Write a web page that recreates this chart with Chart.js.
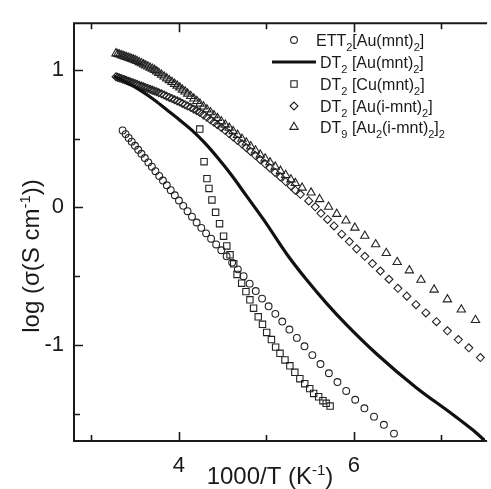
<!DOCTYPE html>
<html><head><meta charset="utf-8">
<script src="https://cdn.jsdelivr.net/npm/chart.js@4/dist/chart.umd.min.js"></script>
<style>html,body{margin:0;padding:0;background:#fff}</style>
</head><body>
<canvas id="c" width="491" height="489" style="display:block;width:491px;height:489px"></canvas>
<script>
// ---- tick definitions ----
const xTickValues = [3, 4, 5, 6, 7];
const xTickLabels = [4, 6];
const yTickValues = [1, 0.5, 0, -0.5, -1, -1.5];
const yTickLabels = [1, 0, -1];

// ---- series names (text, 0 = normal, 1 = subscript) ----
const seriesNames = [
  [['ETT',0],['2',1],['[Au(mnt)',0],['2',1],[']',0]],
  [['DT',0],['2',1],[' [Au(mnt)',0],['2',1],[']',0]],
  [['DT',0],['2',1],[' [Cu(mnt)',0],['2',1],[']',0]],
  [['DT',0],['2',1],[' [Au(i-mnt)',0],['2',1],[']',0]],
  [['DT',0],['9',1],[' [Au',0],['2',1],['(i-mnt)',0],['2',1],[']',0],['2',1]]
];

// ---- ETT2[Au(mnt)2] (circles) ----
const circX = [3.356,3.390,3.425,3.460,3.497,3.534,3.571,3.610,3.650,3.690,3.731,3.774,3.817,3.861,3.906,3.953,4.000,4.049,4.098,4.149,4.202,4.255,4.310,4.367,4.425,4.484,4.545,4.608,4.673,4.739,4.808,4.878,4.950,5.025,5.102,5.181,5.263,5.348,5.435,5.525,5.618,5.714,5.812,5.912,6.015,6.120,6.230,6.343,6.458];
const circY = [0.560,0.533,0.505,0.478,0.448,0.419,0.390,0.359,0.327,0.296,0.263,0.229,0.195,0.161,0.125,0.088,0.050,0.011,-0.028,-0.068,-0.110,-0.149,-0.189,-0.228,-0.270,-0.312,-0.356,-0.402,-0.451,-0.501,-0.555,-0.609,-0.664,-0.720,-0.775,-0.831,-0.889,-0.950,-1.011,-1.075,-1.140,-1.207,-1.271,-1.336,-1.400,-1.462,-1.523,-1.582,-1.646];

// ---- DT2[Au(mnt)2] (solid line) ----
const lineX = [3.256,3.40,3.55,3.70,3.85,4.00,4.15,4.30,4.45,4.60,4.77,4.974,5.238,5.45,5.69,5.917,6.257,6.71,7.126,7.35,7.52];
const lineY = [0.955,0.91,0.855,0.79,0.715,0.64,0.56,0.465,0.355,0.235,0.085,-0.095,-0.345,-0.52,-0.70,-0.855,-1.065,-1.31,-1.505,-1.615,-1.71];

// ---- DT2[Cu(mnt)2] (squares) ----
const sqX = [4.238,4.287,4.320,4.343,4.377,4.419,4.464,4.510,4.547,4.584,4.626,4.664,4.717,4.766,4.811,4.853,4.906,4.955,5.003,5.057,5.105,5.155,5.212,5.268,5.325,5.382,5.438,5.495,5.540,5.597,5.646,5.683,5.728];
const sqY = [0.570,0.332,0.209,0.138,0.054,-0.036,-0.119,-0.210,-0.281,-0.345,-0.411,-0.488,-0.552,-0.613,-0.673,-0.734,-0.796,-0.851,-0.910,-0.962,-1.017,-1.062,-1.110,-1.153,-1.200,-1.247,-1.283,-1.319,-1.354,-1.378,-1.407,-1.426,-1.446];

// ---- DT2[Au(i-mnt)2] (diamonds) ----
const diaX = [3.28,3.30,3.32,3.34,3.36,3.38,3.40,3.42,3.44,3.46,3.48,3.50,3.52,3.545,3.57,3.595,3.62,3.645,3.67,3.695,3.72,3.745,3.77,3.80,3.83,3.86,3.89,3.92,3.95,3.98,4.01,4.04,4.07,4.10,4.135,4.17,4.205,4.24,4.28,4.32,4.36,4.40,4.44,4.485,4.53,4.575,4.62,4.67,4.72,4.77,4.82,4.875,4.93,4.985,5.04,5.10,5.16,5.22,5.28,5.33,5.388,5.484,5.558,5.623,5.699,5.773,5.861,5.948,6.031,6.125,6.212,6.302,6.401,6.503,6.605,6.710,6.823,6.944,7.069,7.194,7.314,7.446];
const diaY = [0.950,0.946,0.941,0.937,0.932,0.928,0.923,0.918,0.914,0.909,0.905,0.900,0.895,0.889,0.883,0.877,0.871,0.865,0.859,0.853,0.847,0.841,0.834,0.826,0.817,0.809,0.800,0.792,0.783,0.775,0.766,0.756,0.747,0.737,0.726,0.714,0.703,0.691,0.673,0.655,0.637,0.619,0.601,0.581,0.559,0.535,0.512,0.487,0.462,0.434,0.407,0.377,0.347,0.317,0.287,0.254,0.221,0.188,0.156,0.125,0.095,0.047,0.004,-0.043,-0.088,-0.135,-0.195,-0.249,-0.302,-0.356,-0.409,-0.463,-0.523,-0.589,-0.646,-0.708,-0.768,-0.832,-0.898,-0.962,-1.022,-1.093];

// ---- DT9[Au2(i-mnt)2]2 (triangles) ----
const triX = [3.28,3.30,3.32,3.34,3.36,3.38,3.40,3.42,3.44,3.46,3.48,3.50,3.52,3.545,3.57,3.595,3.62,3.645,3.67,3.695,3.72,3.745,3.77,3.80,3.83,3.86,3.89,3.92,3.95,3.98,4.01,4.04,4.07,4.10,4.135,4.17,4.205,4.24,4.28,4.32,4.36,4.40,4.44,4.485,4.53,4.575,4.62,4.67,4.72,4.77,4.82,4.875,4.93,4.985,5.04,5.10,5.16,5.22,5.28,5.33,5.408,5.510,5.608,5.710,5.804,5.909,6.011,6.125,6.249,6.370,6.495,6.634,6.767,6.917,7.069,7.228,7.390];
const triY = [1.120,1.115,1.111,1.106,1.102,1.097,1.093,1.088,1.084,1.079,1.075,1.070,1.064,1.056,1.048,1.040,1.032,1.024,1.016,1.008,1.000,0.989,0.978,0.965,0.951,0.938,0.925,0.911,0.898,0.885,0.871,0.856,0.842,0.827,0.810,0.791,0.773,0.754,0.733,0.712,0.691,0.670,0.649,0.625,0.601,0.578,0.554,0.527,0.499,0.471,0.444,0.413,0.383,0.355,0.327,0.296,0.265,0.235,0.203,0.176,0.143,0.107,0.059,0.004,-0.048,-0.096,-0.148,-0.207,-0.269,-0.333,-0.398,-0.459,-0.527,-0.599,-0.670,-0.744,-0.820];

const pts = (X, Y) => X.map((x, i) => ({x, y: Y[i]}));
const INK = '#1a1a1a';
const SYM = '#222222';
const FONT = '"Liberation Sans", Arial, sans-serif';

const markerStyles = [
  {pointStyle:'circle', radius:3.4},
  null,
  {pointStyle:'rect', radius:4.5},
  {pointStyle:'rectRot', radius:4.0},
  {pointStyle:'triangle', radius:4.8}
];

function drawRich(ctx, parts, x, y, size, subSize, dy) {
  let cx = x;
  for (const [t, f] of parts) {
    ctx.font = (f ? subSize : size) + 'px ' + FONT;
    const yy = f === 1 ? y + dy : (f === 2 ? y - dy : y);
    ctx.fillText(t, cx, yy);
    cx += ctx.measureText(t).width;
  }
  return cx - x;
}
function richWidth(ctx, parts, size, subSize) {
  let w = 0;
  for (const [t, f] of parts) {
    ctx.font = (f ? subSize : size) + 'px ' + FONT;
    w += ctx.measureText(t).width;
  }
  return w;
}

const xTitle = [['1000/T (K',0],['-1',2],[')',0]];
const yTitle = [['log (\u03c3(S cm',0],['-1',2],['))',0]];

const frame = {
  id: 'frame',
  afterDraw(chart) {
    const {ctx, chartArea: a, scales: {x, y}} = chart;
    ctx.save();
    ctx.strokeStyle = INK;
    ctx.lineWidth = 2;
    ctx.beginPath();
    ctx.moveTo(a.left - 1, a.top); ctx.lineTo(a.right + 2, a.top);
    ctx.moveTo(a.left, a.top - 1); ctx.lineTo(a.left, a.bottom + 1);
    ctx.moveTo(a.left - 1, a.bottom); ctx.lineTo(a.right + 2, a.bottom);
    ctx.stroke();
    ctx.lineWidth = 1.6;
    ctx.beginPath();
    for (const v of xTickValues) {
      const px = Math.round(x.getPixelForValue(v)) + 0.5;
      const len = xTickLabels.includes(v) ? 9 : 6;
      ctx.moveTo(px, a.bottom); ctx.lineTo(px, a.bottom - len);
      ctx.moveTo(px, a.top); ctx.lineTo(px, a.top + len);
    }
    for (const v of yTickValues) {
      const py = Math.round(y.getPixelForValue(v)) + 0.5;
      const len = yTickLabels.includes(v) ? 9 : 6;
      ctx.moveTo(a.left, py); ctx.lineTo(a.left + len, py);
    }
    ctx.stroke();

    // axis titles
    ctx.fillStyle = INK;
    ctx.textBaseline = 'alphabetic';
    ctx.textAlign = 'left';
    const ts = 24, tss = 15;
    let w = richWidth(ctx, xTitle, ts, tss);
    drawRich(ctx, xTitle, 270 - w / 2, 484, ts, tss, 9);
    ctx.save();
    ctx.translate(39, 256);
    ctx.rotate(-Math.PI / 2);
    w = richWidth(ctx, yTitle, ts, tss);
    drawRich(ctx, yTitle, -w / 2, 0, ts, tss, 9);
    ctx.restore();

    // legend
    const rowsY = [40, 62, 84, 106, 127];
    for (let i = 0; i < seriesNames.length; i++) {
      const ry = rowsY[i];
      if (i === 1) {
        ctx.strokeStyle = '#111';
        ctx.lineWidth = 3;
        ctx.beginPath(); ctx.moveTo(272, ry); ctx.lineTo(316, ry); ctx.stroke();
      } else {
        const m = markerStyles[i];
        ctx.strokeStyle = SYM;
        ctx.lineWidth = 1.1;
        ctx.fillStyle = 'rgba(0,0,0,0)';
        Chart.helpers.drawPoint(ctx, {pointStyle: m.pointStyle, radius: m.radius, rotation: 0, borderWidth: 1.1}, 294, ry);
      }
      ctx.fillStyle = INK;
      drawRich(ctx, seriesNames[i], i === 0 ? 316 : 320, ry + 6, 16, 11, 5);
    }
    ctx.restore();
  }
};

const ds = (X, Y, i) => ({
  data: pts(X, Y),
  showLine: false,
  pointStyle: markerStyles[i].pointStyle,
  pointRadius: markerStyles[i].radius,
  pointBorderWidth: 1.1,
  pointBorderColor: SYM,
  pointBackgroundColor: 'rgba(0,0,0,0)'
});

new Chart(document.getElementById('c'), {
  type: 'scatter',
  data: {
    datasets: [
      ds(circX, circY, 0),
      {data: pts(lineX, lineY), showLine: true, borderColor: '#111', borderWidth: 3.2,
       pointRadius: 0, cubicInterpolationMode: 'monotone', fill: false},
      ds(sqX, sqY, 2),
      ds(diaX, diaY, 3),
      ds(triX, triY, 4)
    ]
  },
  options: {
    responsive: false,
    animation: false,
    devicePixelRatio: 1,
    layout: {padding: {top: 15, right: 0, left: 0, bottom: 0}},
    plugins: {legend: {display: false}, tooltip: {enabled: false}},
    scales: {
      x: {
        type: 'linear', min: 2.8, max: 7.5,
        grid: {display: false, drawTicks: false}, border: {display: false},
        afterBuildTicks: s => { s.ticks = xTickValues.map(v => ({value: v})); },
        afterFit: s => { s.height = 48; },
        ticks: {autoSkip: false, maxRotation: 0, padding: 12, color: INK,
          font: {size: 22, family: FONT},
          callback: v => xTickLabels.includes(v) ? String(v) : ''}
      },
      y: {
        type: 'linear', min: -1.7, max: 1.34,
        grid: {display: false, drawTicks: false}, border: {display: false},
        afterBuildTicks: s => { s.ticks = yTickValues.map(v => ({value: v})); },
        afterFit: s => { s.width = 74; },
        ticks: {autoSkip: false, padding: 10, color: INK,
          font: {size: 22, family: FONT},
          callback: v => yTickLabels.includes(v) ? String(v) : ''}
      }
    }
  },
  plugins: [frame]
});
</script>
</body></html>
